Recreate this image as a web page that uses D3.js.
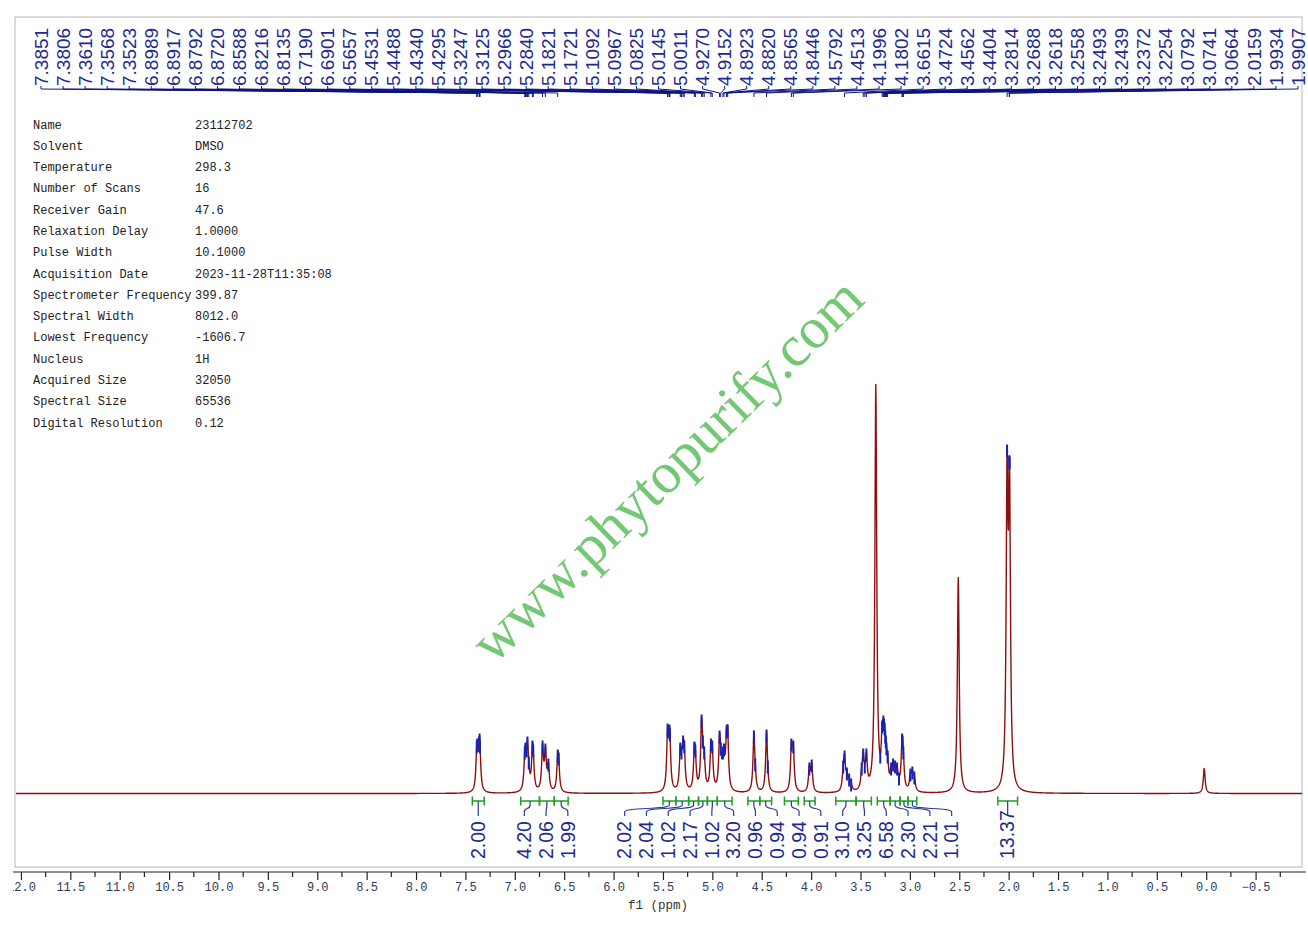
<!DOCTYPE html>
<html><head><meta charset="utf-8">
<script src="https://cdn.jsdelivr.net/npm/d3@7"></script>
<style>body{margin:0;background:#fff}svg{display:block}</style>
</head><body>
<svg id="c" width="1308" height="925"></svg>
<script>
// ---------------- data ----------------
const infoKeys = ["Name","Solvent","Temperature","Number of Scans","Receiver Gain","Relaxation Delay","Pulse Width","Acquisition Date","Spectrometer Frequency","Spectral Width","Lowest Frequency","Nucleus","Acquired Size","Spectral Size","Digital Resolution"];
const infoValues = ["23112702","DMSO","298.3","16","47.6","1.0000","10.1000","2023-11-28T11:35:08","399.87","8012.0","-1606.7","1H","32050","65536","0.12"];

// labelled peak picks (ppm) and their heights (a.u.)
const peakLabels = [7.3851,7.3806,7.3610,7.3568,7.3523,6.8989,6.8917,6.8792,6.8720,6.8588,6.8216,6.8135,6.7190,6.6901,6.5657,
  5.4531,5.4488,5.4340,5.4295,5.3247,5.3125,5.2966,5.2840,5.1821,5.1721,5.1092,5.0967,5.0825,5.0145,5.0011,
  4.9270,4.9152,4.8923,4.8820,4.8565,4.8446,4.5792,4.4513,4.1996,4.1802,3.6615,3.4724,3.4562,3.4404,
  3.2814,3.2688,3.2618,3.2558,3.2493,3.2439,3.2372,3.2254,3.0792,3.0741,3.0664,2.0159,1.9934,1.9907];
const peakHeights = [50,52,54,57,50,44,48,40,54,34,50,46,50,47,41,
  67,65,66,62,48,44,55,50,49,46,76,55,44,52,50,
  60,48,44,47,65,66,60,61,52,50,40,42,30,42,
  70,75,72,68,60,55,48,40,57,55,44,346,335,334];

// further multiplet lines without labels
const extraPeaks   = [6.6600,6.5560,4.5660,4.4390,4.0180,3.9940,3.6750,3.6380,3.6150,3.5950,3.4880,3.3000,3.1900,3.1700,3.1500,3.1300,3.1100,2.9950,2.9750,2.9550];
const extraHeights = [32,38,32,30,28,31,30,23,17,12,28,22,28,32,30,28,18,22,24,19];

// solvent / reference lines (H2O, DMSO, TMS)
const solventPeaks   = [3.345,2.510,0.020];
const solventHeights = [409,216,25];

// integrals
const integralFrom   = [7.43,6.94,6.75,6.60,5.50,5.37,5.24,5.14,5.05,4.95,4.64,4.52,4.27,4.07,3.75,3.545,3.33,3.20,3.10,3.02,2.11];
const integralTo     = [7.31,6.75,6.60,6.46,5.37,5.24,5.14,5.05,4.95,4.80,4.52,4.40,4.13,3.96,3.545,3.39,3.20,3.10,3.02,2.93,1.91];
const integralValues = ["2.00","4.20","2.06","1.99","2.02","2.04","1.02","2.17","1.02","3.20","0.96","0.94","0.94","0.91","3.10","3.25","6.58","2.30","2.21","1.01","13.37"];

// axis tick labels
const axisTicks = [12.0,11.5,11.0,10.5,10.0,9.5,9.0,8.5,8.0,7.5,7.0,6.5,6.0,5.5,5.0,4.5,4.0,3.5,3.0,2.5,2.0,1.5,1.0,0.5,0.0,-0.5];

// ---------------- drawing ----------------
const svg = d3.select("#c");
const x = d3.scaleLinear().domain([12.05,-0.98]).range([16,1303]);
const y = d3.scaleLinear().domain([0,409]).range([793.5,384.5]);
const BLUE = "#1d2a8f", LEAD = "#0c1680";

const defs = svg.append("defs");
defs.append("clipPath").attr("id","plotclip")
  .append("rect").attr("x",15).attr("y",17).attr("width",1287).attr("height",850);
defs.append("clipPath").attr("id","axclip")
  .append("rect").attr("x",13).attr("y",860).attr("width",1295).attr("height",65);

// frame
svg.append("rect").attr("x",15).attr("y",17).attr("width",1287).attr("height",850)
  .attr("fill","none").attr("stroke","#cfcfcf").attr("stroke-width",1.5);

// info block
const info = svg.append("g").attr("font-family","'Liberation Mono', monospace").attr("font-size",12).attr("fill","#222");
infoKeys.forEach((k,i)=>{
  const by = 128.5 + i*21.29;
  info.append("text").attr("x",33).attr("y",by).text(k);
  info.append("text").attr("x",195).attr("y",by).text(infoValues[i]);
});

// watermark
svg.append("text").attr("transform","translate(666,469) rotate(-44.3)")
  .attr("text-anchor","middle").attr("dy","0.35em")
  .attr("font-family","'Liberation Serif', serif").attr("font-size",58)
  .attr("fill","#5cbd5c").attr("fill-opacity",0.85).text("www.phytopurify.com");

// spectrum: Lorentzian lines at the read positions, amplitudes fitted to the read heights
const HW = 0.011;
const lor = d => 1/(1+(d/HW)*(d/HW));
const allPpm = [...peakLabels, ...extraPeaks, ...solventPeaks];
const allH = [...peakHeights, ...extraHeights, ...solventHeights];
const n = allPpm.length;
const amp = allH.slice();
for (let it=0; it<400; it++){
  for (let i=0;i<n;i++){
    let s=0;
    for (let j=0;j<n;j++) if (j!==i) s += amp[j]*lor(allPpm[i]-allPpm[j]);
    amp[i] = Math.max(0, allH[i]-s);
  }
}
const spec = p => { let s=0; for (let j=0;j<n;j++) s += amp[j]*lor(p-allPpm[j]); return s; };
let pts = d3.range(12.05, -0.98, -0.0025).concat(allPpm);
pts.sort((a,b)=>b-a);
const line = d3.line().x(p=>x(p)).y(p=>y(spec(p)));
svg.append("path").attr("clip-path","url(#plotclip)").datum(pts).attr("d",line)
  .attr("fill","none").attr("stroke","#8e0f0f").attr("stroke-width",1.4).attr("stroke-linejoin","round");

// peak-pick marks (blue)
const picks = [...peakLabels, ...extraPeaks];
svg.append("g").selectAll("line").data(picks).join("line")
  .attr("x1",p=>x(p)).attr("x2",p=>x(p))
  .attr("y1",p=>y(spec(p))-3).attr("y2",p=>y(spec(p))+10)
  .attr("stroke","#1a22b0").attr("stroke-width",2);

// top peak labels, evenly spread, with leader lines
const nL = peakLabels.length;
const lx = i => 41 + i*(1298-41)/(nL-1);
const topG = svg.append("g");
topG.selectAll("path").data(peakLabels).join("path")
  .attr("d",(p,i)=>`M${lx(i)},86V89L${x(p)},93V97`)
  .attr("fill","none").attr("stroke",LEAD).attr("stroke-width",1);
topG.selectAll("text").data(peakLabels).join("text")
  .attr("transform",(p,i)=>`translate(${lx(i)},86) rotate(-90)`)
  .attr("dy","0.35em").attr("text-anchor","start")
  .attr("font-family","'Liberation Sans', Arial, sans-serif").attr("font-size",19)
  .attr("fill",BLUE).text(p=>d3.format(".4f")(p));

// integrals: label layout by cluster spreading
const SP = 21.8;
const centers = integralFrom.map((f,i)=>(x(f)+x(integralTo[i]))/2);
let clusters = centers.map((c,i)=>({idx:[i]}));
const place = cl => { const m = d3.mean(cl.idx,i=>centers[i]); cl.start = m - (cl.idx.length-1)*SP/2; cl.end = cl.start + (cl.idx.length-1)*SP; };
clusters.forEach(place);
let merged = true;
while (merged){
  merged = false;
  for (let k=1;k<clusters.length;k++){
    if (clusters[k].start < clusters[k-1].end + SP){
      clusters[k-1].idx = clusters[k-1].idx.concat(clusters[k].idx);
      clusters.splice(k,1); place(clusters[k-1]); merged = true; break;
    }
  }
}
const labX = [];
clusters.forEach(cl=>cl.idx.forEach((i,j)=>labX[i]=cl.start+j*SP));

const ig = svg.append("g");
integralFrom.forEach((f,i)=>{
  const x1 = x(f), x2 = x(integralTo[i]), cx = centers[i], l = labX[i];
  ig.append("path").attr("d",`M${x1},801H${x2}M${x1},796.5V805.5M${x2},796.5V805.5`)
    .attr("stroke","#1f9e23").attr("stroke-width",1.5).attr("fill","none");
  ig.append("path").attr("d",`M${cx},801V805C${cx},810 ${l},807 ${l},812V816`)
    .attr("stroke","#2a3a9a").attr("stroke-width",1.2).attr("fill","none");
  ig.append("text").attr("transform",`translate(${l},859) rotate(-90)`)
    .attr("dy","0.35em").attr("text-anchor","start")
    .attr("font-family","'Liberation Sans', Arial, sans-serif").attr("font-size",19.5)
    .attr("fill",BLUE).text(integralValues[i]);
});

// x axis
const axG = svg.append("g").attr("clip-path","url(#axclip)");
axG.append("line").attr("x1",13).attr("x2",1306).attr("y1",872).attr("y2",872)
  .attr("stroke","#222").attr("stroke-width",1.2);
const ax = axG.append("g").attr("transform","translate(0,872)")
  .call(d3.axisBottom(x).tickValues(axisTicks).tickFormat(d3.format(".1f")).tickSize(8).tickPadding(2));
ax.select(".domain").remove();
ax.selectAll(".tick line").attr("stroke","#222").attr("stroke-width",1.2);
ax.selectAll(".tick text").attr("font-family","'Liberation Mono', monospace").attr("font-size",12).attr("fill","#2e3a58");
const minor = axisTicks.map(t=>t-0.25);
axG.selectAll("line.minor").data(minor).join("line").attr("class","minor")
  .attr("x1",d=>x(d)).attr("x2",d=>x(d)).attr("y1",872).attr("y2",877)
  .attr("stroke","#222").attr("stroke-width",1.2);
svg.append("text").attr("x",658).attr("y",909).attr("text-anchor","middle")
  .attr("font-family","'Liberation Mono', monospace").attr("font-size",12.5).attr("fill","#333")
  .text("f1 (ppm)");
</script>
</body></html>
